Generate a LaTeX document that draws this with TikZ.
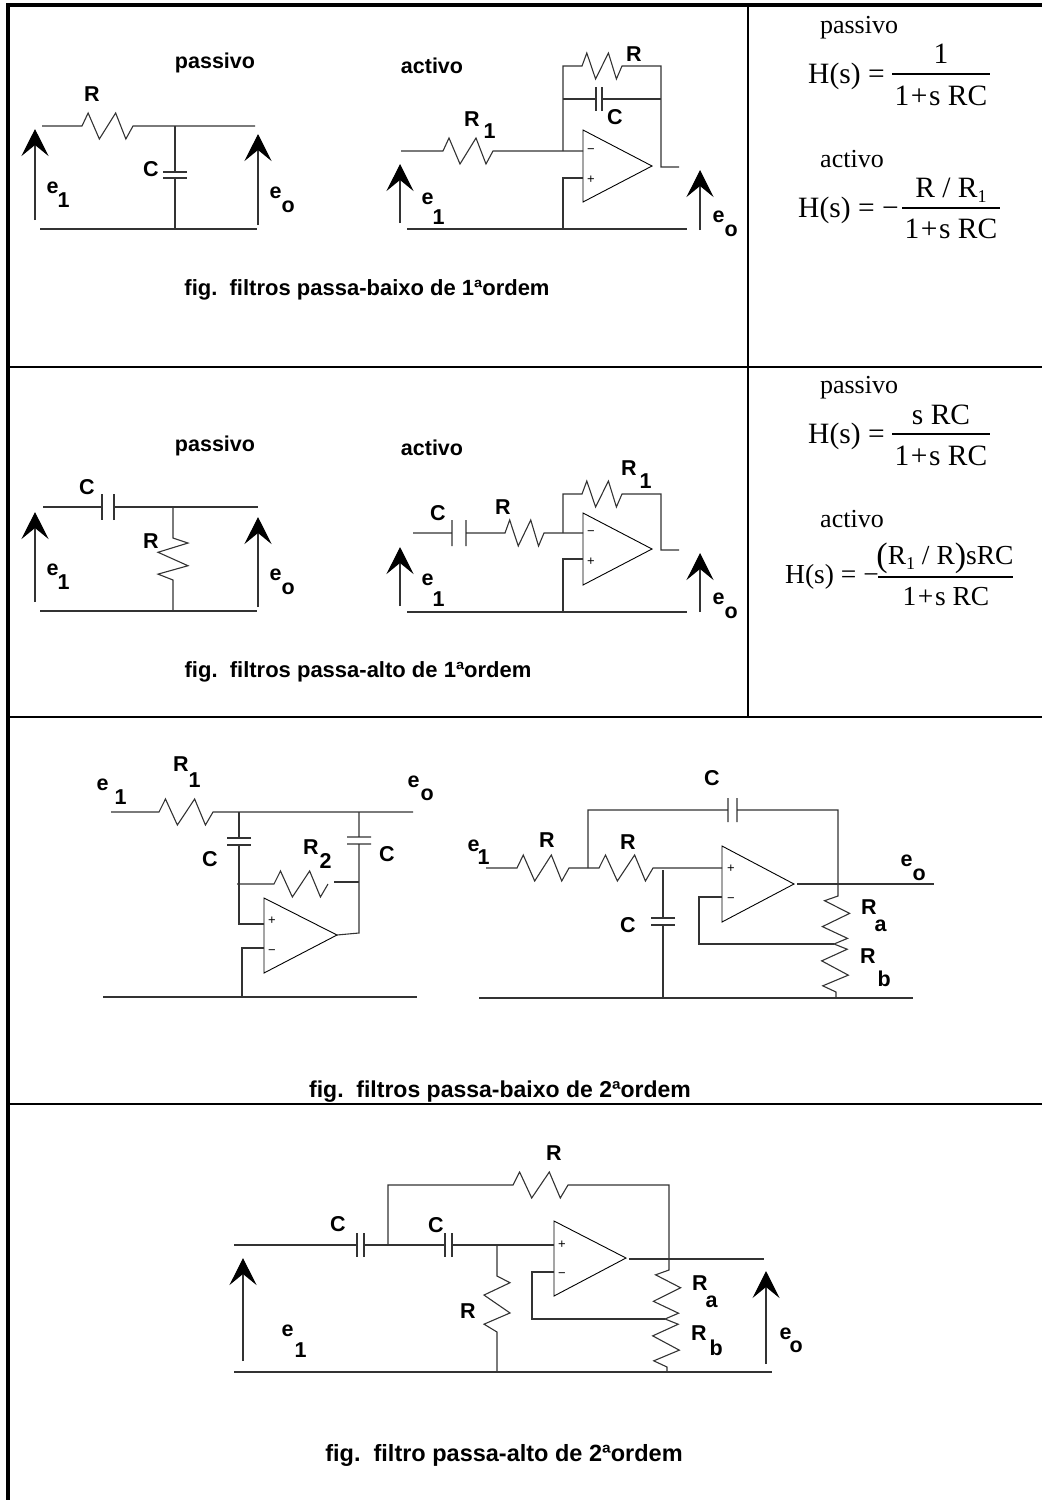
\documentclass[tikz,border=0pt]{standalone}
\usepackage{fontspec}
\setmainfont{Liberation Serif}
\newfontfamily\labfont{Liberation Sans}
\usetikzlibrary{arrows.meta,calc}
\newcommand{\lowtxt}[4]{#2\kern#1pt\raisebox{-#4pt}{#3}}
\newcommand{\sml}{\fontsize{18}{18}\selectfont}
\newcommand{\bigp}[1]{{\fontsize{34}{34}\selectfont\raisebox{-2pt}{#1}}}
\newcommand{\den}{1\kern1.5pt+\kern1.5pt s RC}

\begin{document}
\begin{tikzpicture}[x=1pt,y=-1pt,
  wire/.style={line width=1.1pt,draw=black!80},
  rule/.style={line width=4pt,draw=black},
  thinrule/.style={line width=2.5pt,draw=black},
  volt/.style={wire,-{Stealth[length=27pt,width=27pt,inset=11pt,black]}},
  amp/.style={line width=0.9pt,draw=black},
  lab/.style={font=\labfont\bfseries\fontsize{21.5}{21.5}\selectfont,inner sep=0pt},
  figlab/.style={font=\labfont\bfseries\fontsize{#1}{#1}\selectfont,inner sep=0pt},
  sublab/.style={lab,anchor=base west},
  sign/.style={font=\labfont\fontsize{13}{13}\selectfont,inner sep=0pt},
  txt/.style={font=\fontsize{26}{26}\selectfont,inner sep=0pt,anchor=base},
  frm/.style={font=\fontsize{29.5}{29.5}\selectfont,inner sep=0pt,anchor=base},
  frmb/.style={font=\fontsize{27.5}{27.5}\selectfont,inner sep=0pt,anchor=base},
  res/.style={to path={
    -- ($(\tikztostart)!.12!(\tikztotarget)!#1pt!90:(\tikztotarget)$)
    -- ($(\tikztostart)!.34!(\tikztotarget)!#1pt!-90:(\tikztotarget)$)
    -- ($(\tikztostart)!.66!(\tikztotarget)!#1pt!90:(\tikztotarget)$)
    -- ($(\tikztostart)!.86!(\tikztotarget)!#1pt!-90:(\tikztotarget)$)
    -- (\tikztotarget)}},
  res/.default=13,
  cap/.style={to path={
    ($(\tikztostart)!#1pt!90:(\tikztotarget)$) -- ($(\tikztostart)!#1pt!-90:(\tikztotarget)$)
    ($(\tikztotarget)!#1pt!90:(\tikztostart)$) -- ($(\tikztotarget)!#1pt!-90:(\tikztostart)$)
    (\tikztotarget)}},
  cap/.default=12]

\useasboundingbox (0,0) rectangle (1042,1500);

% frame
\coordinate (tl) at (8,5.3);
\coordinate (tr) at (1042,5.3);
\coordinate (bl) at (8,1500);
\coordinate (s1l) at (8,367);
\coordinate (s1r) at (1042,367);
\coordinate (s2l) at (8,717);
\coordinate (s2r) at (1042,717);
\coordinate (s3l) at (8,1104);
\coordinate (s3r) at (1042,1104);
\coordinate (vt) at (748,5);
\coordinate (vb) at (748,717);
\draw[rule] (bl) -- (tl) -- (tr);
\draw[thinrule] (s1l) -- (s1r) (s2l) -- (s2r) (s3l) -- (s3r) (vt) -- (vb);

% first order low pass, passive
\coordinate (a1) at (42,126);
\coordinate (a2) at (82,126);
\coordinate (a3) at (133,126);
\coordinate (a4) at (175,126);
\coordinate (a5) at (255,126);
\coordinate (a6) at (175,172);
\coordinate (a7) at (175,178);
\coordinate (a8) at (175,229);
\coordinate (a9) at (40,229);
\coordinate (a10) at (257,229);
\coordinate (a11) at (35,220);
\coordinate (a12) at (35,129);
\coordinate (a13) at (258,225);
\coordinate (a14) at (258,134);
\draw[wire] (a1) -- (a2) to[res] (a3) -- (a5);
\draw[wire] (a4) -- (a6) to[cap] (a7) -- (a8);
\draw[wire] (a9) -- (a10);
\draw[volt] (a11) -- (a12);
\draw[volt] (a13) -- (a14);
\node[lab] (a15) at (215,63) {passivo};
\node[lab] (a16) at (92,94) {R};
\node[lab] (a17) at (151,169) {C};
\node[sublab] (a18) at (46.5,193) {\lowtxt{-1}{e}{1}{14}};
\node[sublab] (a19) at (269.5,198) {\lowtxt{0}{e}{o}{14}};

% first order low pass, active
\coordinate (b1) at (583,130);
\coordinate (b2) at (583,202);
\coordinate (b3) at (652,166);
\coordinate (b4) at (401,151);
\coordinate (b5) at (443,151);
\coordinate (b6) at (493,151);
\coordinate (b7) at (583,151);
\coordinate (b8) at (563,151);
\coordinate (b9) at (563,66);
\coordinate (b10) at (582,66);
\coordinate (b11) at (622,66);
\coordinate (b12) at (661,66);
\coordinate (b13) at (661,167);
\coordinate (b14) at (679,167);
\coordinate (b15) at (563,99);
\coordinate (b16) at (596,99);
\coordinate (b17) at (602,99);
\coordinate (b18) at (661,99);
\coordinate (b19) at (583,178);
\coordinate (b20) at (563,178);
\coordinate (b21) at (563,229);
\coordinate (b22) at (407,229);
\coordinate (b23) at (687,229);
\coordinate (b24) at (400,223);
\coordinate (b25) at (400,164);
\coordinate (b26) at (700,230);
\coordinate (b27) at (700,170);
\draw[amp] (b1) -- (b2) -- (b3) -- cycle;
\draw[wire] (b4) -- (b5) to[res] (b6) -- (b7);
\draw[wire] (b8) -- (b9) -- (b10) to[res] (b11) -- (b12) -- (b13) -- (b14);
\draw[wire] (b15) -- (b16) to[cap] (b17) -- (b18);
\draw[wire] (b19) -- (b20) -- (b21);
\draw[wire] (b22) -- (b23);
\draw[volt] (b24) -- (b25);
\draw[volt] (b26) -- (b27);
\node[lab] (b28) at (432,66) {activo};
\node[lab] (b29) at (634,54) {R};
\node[lab] (b30) at (615,117) {C};
\node[sublab] (b31) at (464,126) {\lowtxt{4}{R}{1}{12}};
\node[sublab] (b32) at (421.5,204) {\lowtxt{-1}{e}{1}{20}};
\node[sublab] (b33) at (712.5,222) {\lowtxt{0}{e}{o}{14}};
\node[sign] (b34) at (591,151) {−};
\node[sign] (b35) at (591,180) {+};
\node[figlab=22] (b36) at (367,290) {fig.\ \ filtros passa-baixo de 1ªordem};

% first order low pass, transfer functions
\coordinate (c1) at (892,74);
\coordinate (c2) at (990,74);
\coordinate (c3) at (902,208);
\coordinate (c4) at (1000,208);
\draw[line width=1.4pt] (c1) -- (c2);
\draw[line width=1.4pt] (c3) -- (c4);
\node[txt] (c5) at (859,33) {passivo};
\node[frm,anchor=base west] (c6) at (808,83) {H(s) =};
\node[frm] (c7) at (941,63) {1};
\node[frm] (c8) at (941,105) {\den};
\node[txt] (c9) at (852,167) {activo};
\node[frm,anchor=base west] (c10) at (798,217) {H(s) = −};
\node[frm] (c11) at (951,197) {R / R\raisebox{-5pt}{\sml 1}};
\node[frm] (c12) at (951,238) {\den};

% first order high pass, passive
\coordinate (d1) at (43,507);
\coordinate (d2) at (102,507);
\coordinate (d3) at (114,507);
\coordinate (d4) at (258,507);
\coordinate (d5) at (173,507);
\coordinate (d6) at (173,538);
\coordinate (d7) at (173,580);
\coordinate (d8) at (173,611);
\coordinate (d9) at (40,611);
\coordinate (d10) at (257,611);
\coordinate (d11) at (35,602);
\coordinate (d12) at (35,512);
\coordinate (d13) at (258,607);
\coordinate (d14) at (258,517);
\draw[wire] (d1) -- (d2) to[cap=13] (d3) -- (d4);
\draw[wire] (d5) -- (d6) to[res=15] (d7) -- (d8);
\draw[wire] (d9) -- (d10);
\draw[volt] (d11) -- (d12);
\draw[volt] (d13) -- (d14);
\node[lab] (d15) at (215,446) {passivo};
\node[lab] (d16) at (87,487) {C};
\node[lab] (d17) at (151,541) {R};
\node[sublab] (d18) at (46.5,575) {\lowtxt{-1}{e}{1}{14}};
\node[sublab] (d19) at (269.5,580) {\lowtxt{0}{e}{o}{14}};

% first order high pass, active
\coordinate (e1) at (583,513);
\coordinate (e2) at (583,585);
\coordinate (e3) at (652,549);
\coordinate (e4) at (413,533);
\coordinate (e5) at (452,533);
\coordinate (e6) at (466,533);
\coordinate (e7) at (505,533);
\coordinate (e8) at (544,533);
\coordinate (e9) at (583,533);
\coordinate (e10) at (563,533);
\coordinate (e11) at (563,494);
\coordinate (e12) at (582,494);
\coordinate (e13) at (622,494);
\coordinate (e14) at (661,494);
\coordinate (e15) at (661,550);
\coordinate (e16) at (679,550);
\coordinate (e17) at (583,559);
\coordinate (e18) at (563,559);
\coordinate (e19) at (563,612);
\coordinate (e20) at (407,612);
\coordinate (e21) at (687,612);
\coordinate (e22) at (400,606);
\coordinate (e23) at (400,547);
\coordinate (e24) at (700,612);
\coordinate (e25) at (700,553);
\draw[amp] (e1) -- (e2) -- (e3) -- cycle;
\draw[wire] (e4) -- (e5) to[cap=13] (e6) -- (e7) to[res] (e8) -- (e9);
\draw[wire] (e10) -- (e11) -- (e12) to[res] (e13) -- (e14) -- (e15) -- (e16);
\draw[wire] (e17) -- (e18) -- (e19);
\draw[wire] (e20) -- (e21);
\draw[volt] (e22) -- (e23);
\draw[volt] (e24) -- (e25);
\node[lab] (e26) at (432,448) {activo};
\node[lab] (e27) at (438,513) {C};
\node[lab] (e28) at (503,507) {R};
\node[sublab] (e29) at (621,475) {\lowtxt{3}{R}{1}{13}};
\node[sublab] (e30) at (421.5,585) {\lowtxt{-1}{e}{1}{21}};
\node[sublab] (e31) at (712.5,604) {\lowtxt{0}{e}{o}{14}};
\node[sign] (e32) at (591,533) {−};
\node[sign] (e33) at (591,562) {+};
\node[figlab=22] (e34) at (358,672) {fig.\ \ filtros passa-alto de 1ªordem};

% first order high pass, transfer functions
\coordinate (f1) at (892,434);
\coordinate (f2) at (990,434);
\coordinate (f3) at (878,577);
\coordinate (f4) at (1013,577);
\draw[line width=1.4pt] (f1) -- (f2);
\draw[line width=1.4pt] (f3) -- (f4);
\node[txt] (f5) at (859,393) {passivo};
\node[frm,anchor=base west] (f6) at (808,443) {H(s) =};
\node[frm] (f7) at (941,424) {s RC};
\node[frm] (f8) at (941,465) {\den};
\node[txt] (f9) at (852,527) {activo};
\node[frmb,anchor=base west] (f10) at (785,583) {H(s) = −};
\node[frmb] (f11) at (945,564) {\bigp{(}R\raisebox{-5pt}{\sml 1} / R\bigp{)}sRC};
\node[frmb] (f12) at (946,605) {\den};

% second order low pass, left
\coordinate (g1) at (264,898);
\coordinate (g2) at (264,973);
\coordinate (g3) at (337,935);
\coordinate (g4) at (111,812);
\coordinate (g5) at (159,812);
\coordinate (g6) at (213,812);
\coordinate (g7) at (239,812);
\coordinate (g8) at (359,812);
\coordinate (g9) at (413,812);
\coordinate (g10) at (239,838);
\coordinate (g11) at (239,845);
\coordinate (g12) at (239,924);
\coordinate (g13) at (264,924);
\coordinate (g14) at (359,837);
\coordinate (g15) at (359,844);
\coordinate (g16) at (359,933);
\coordinate (g17) at (237,884);
\coordinate (g18) at (274,884);
\coordinate (g19) at (328,884);
\coordinate (g20) at (334,882);
\coordinate (g21) at (359,882);
\coordinate (g22) at (264,948);
\coordinate (g23) at (242,948);
\coordinate (g24) at (242,997);
\coordinate (g25) at (103,997);
\coordinate (g26) at (417,997);
\draw[amp] (g1) -- (g2) -- (g3) -- cycle;
\draw[wire] (g4) -- (g5) to[res] (g6) -- (g9);
\draw[wire] (g7) -- (g10) to[cap] (g11) -- (g12) -- (g13);
\draw[wire] (g8) -- (g14) to[cap] (g15) -- (g16) -- (g3);
\draw[wire] (g17) -- (g18) to[res] (g19);
\draw[wire] (g20) -- (g21);
\draw[wire] (g22) -- (g23) -- (g24);
\draw[wire] (g25) -- (g26);
\node[sublab] (g27) at (96.5,790) {\lowtxt{6}{e}{1}{14}};
\node[sublab] (g28) at (173,771) {\lowtxt{0}{R}{1}{16}};
\node[sublab] (g29) at (303,854) {\lowtxt{1}{R}{2}{14}};
\node[sublab] (g30) at (407.5,787) {\lowtxt{1}{e}{o}{13}};
\node[lab] (g31) at (210,859) {C};
\node[lab] (g32) at (387,854) {C};
\node[sign] (g33) at (272,921) {+};
\node[sign] (g34) at (272,952) {−};

% second order low pass, right
\coordinate (h1) at (722,846);
\coordinate (h2) at (722,922);
\coordinate (h3) at (794,884);
\coordinate (h4) at (486,868);
\coordinate (h5) at (517,868);
\coordinate (h6) at (569,868);
\coordinate (h7) at (588,868);
\coordinate (h8) at (599,868);
\coordinate (h9) at (653,868);
\coordinate (h10) at (722,868);
\coordinate (h11) at (588,810);
\coordinate (h12) at (728,810);
\coordinate (h13) at (737,810);
\coordinate (h14) at (838,810);
\coordinate (h15) at (838,896);
\coordinate (h16) at (834,944);
\coordinate (h17) at (836,992);
\coordinate (h18) at (836,998);
\coordinate (h19) at (797,884);
\coordinate (h20) at (934,884);
\coordinate (h21) at (722,897);
\coordinate (h22) at (699,897);
\coordinate (h23) at (699,944);
\coordinate (h24) at (663,870);
\coordinate (h25) at (663,918);
\coordinate (h26) at (663,925);
\coordinate (h27) at (663,998);
\coordinate (h28) at (479,998);
\coordinate (h29) at (913,998);
\draw[amp] (h1) -- (h2) -- (h3) -- cycle;
\draw[wire] (h4) -- (h5) to[res] (h6) -- (h8) to[res] (h9) -- (h10);
\draw[wire] (h7) -- (h11) -- (h12) to[cap] (h13) -- (h14) -- (h15) to[res=-13] (h16) to[res] (h17) -- (h18);
\draw[wire] (h19) -- (h20);
\draw[wire] (h21) -- (h22) -- (h23) -- (h16);
\draw[wire] (h24) -- (h25) to[cap] (h26) -- (h27);
\draw[wire] (h28) -- (h29);
\node[sublab] (h30) at (467.5,851) {\lowtxt{-2}{e}{1}{13}};
\node[lab] (h31) at (547,840) {R};
\node[lab] (h32) at (628,842) {R};
\node[lab] (h33) at (712,778) {C};
\node[lab] (h34) at (628,925) {C};
\node[sublab] (h35) at (861,914) {\lowtxt{-2}{R}{a}{17}};
\node[sublab] (h36) at (860,963) {\lowtxt{2}{R}{b}{23}};
\node[sublab] (h37) at (900.5,866) {\lowtxt{0}{e}{o}{14}};
\node[sign] (h38) at (731,869) {+};
\node[sign] (h39) at (731,900) {−};
\node[figlab=23] (h40) at (500,1092) {fig.\ \ filtros passa-baixo de 2ªordem};

% second order high pass
\coordinate (k1) at (554,1221);
\coordinate (k2) at (554,1296);
\coordinate (k3) at (626,1258);
\coordinate (k4) at (234,1245);
\coordinate (k5) at (357,1245);
\coordinate (k6) at (364,1245);
\coordinate (k7) at (388,1245);
\coordinate (k8) at (445,1245);
\coordinate (k9) at (452,1245);
\coordinate (k10) at (497,1245);
\coordinate (k11) at (554,1245);
\coordinate (k12) at (388,1185);
\coordinate (k13) at (513,1185);
\coordinate (k14) at (568,1185);
\coordinate (k15) at (669,1185);
\coordinate (k16) at (669,1270);
\coordinate (k17) at (665,1319);
\coordinate (k18) at (667,1367);
\coordinate (k19) at (667,1372);
\coordinate (k20) at (629,1259);
\coordinate (k21) at (764,1259);
\coordinate (k22) at (497,1276);
\coordinate (k23) at (497,1332);
\coordinate (k24) at (497,1372);
\coordinate (k25) at (554,1272);
\coordinate (k26) at (532,1272);
\coordinate (k27) at (532,1319);
\coordinate (k28) at (234,1372);
\coordinate (k29) at (772,1372);
\coordinate (k30) at (243,1361);
\coordinate (k31) at (243,1258);
\coordinate (k32) at (766,1364);
\coordinate (k33) at (766,1271);
\draw[amp] (k1) -- (k2) -- (k3) -- cycle;
\draw[wire] (k4) -- (k5) to[cap] (k6) -- (k8) to[cap] (k9) -- (k11);
\draw[wire] (k7) -- (k12) -- (k13) to[res] (k14) -- (k15) -- (k16) to[res=-13] (k17) to[res] (k18) -- (k19);
\draw[wire] (k20) -- (k21);
\draw[wire] (k10) -- (k22) to[res] (k23) -- (k24);
\draw[wire] (k25) -- (k26) -- (k27) -- (k17);
\draw[wire] (k28) -- (k29);
\draw[volt] (k30) -- (k31);
\draw[volt] (k32) -- (k33);
\node[lab] (k34) at (554,1153) {R};
\node[lab] (k35) at (338,1224) {C};
\node[lab] (k36) at (436,1225) {C};
\node[lab] (k37) at (468,1311) {R};
\node[sublab] (k38) at (692,1290) {\lowtxt{-2}{R}{a}{17}};
\node[sublab] (k39) at (691,1340) {\lowtxt{3}{R}{b}{15}};
\node[sublab] (k40) at (281.5,1336) {\lowtxt{1}{e}{1}{21}};
\node[sublab] (k41) at (779.5,1339) {\lowtxt{-2}{e}{o}{13}};
\node[sign] (k42) at (562,1245) {+};
\node[sign] (k43) at (562,1275) {−};
\node[figlab=23.5] (k44) at (504,1455) {fig.\ \ filtro passa-alto de 2ªordem};

\end{tikzpicture}
\end{document}
